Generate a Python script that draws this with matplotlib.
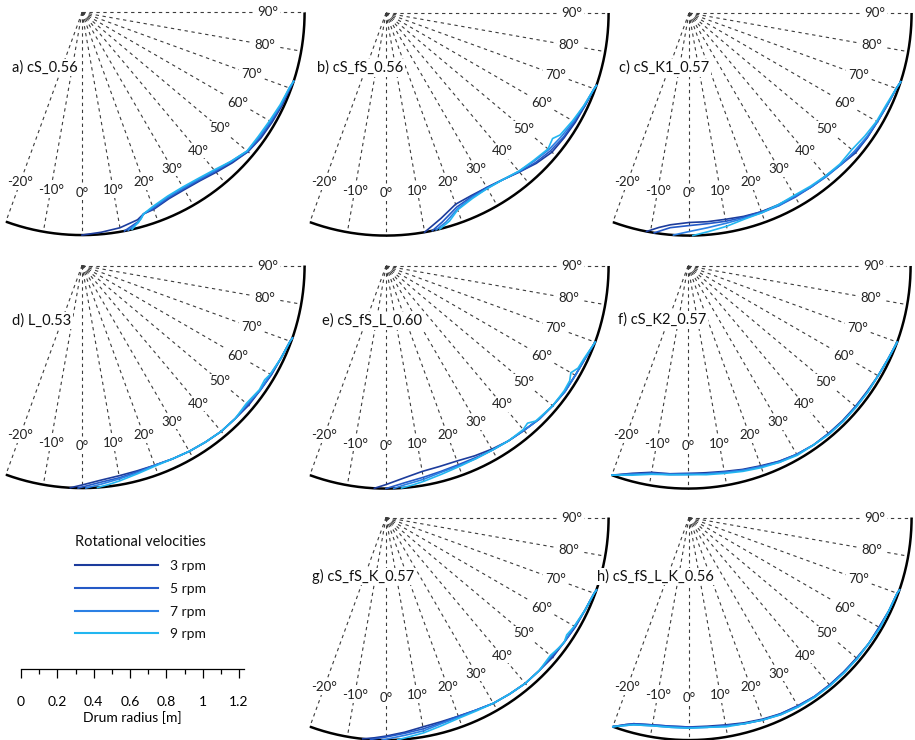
#!/usr/bin/env python3

import matplotlib

matplotlib.use("Agg")
import matplotlib.pyplot as plt
import numpy as np
from matplotlib.lines import Line2D
from matplotlib.ticker import FixedLocator, MultipleLocator


DRUM_RADIUS = 1.225  # m
RAY_ANGLES = list(range(-20, 100, 10))
SPEEDS = [3, 5, 7, 9]
SPEED_COLORS = ["#1c3c9c", "#2459c6", "#2b80e4", "#22b6f0"]

# Free-surface profiles: angle from the drum bottom (deg) and distance
# of the bed surface from the drum wall, measured along the radius (cm).
PANEL_A = {
    3: ([0, 5, 10, 15, 17, 20, 25, 30, 35, 40, 45, 50, 55, 60, 65, 70, 72],
        [0, 1.1, 2.2, 4.4, 6.6, 7.2, 9.4, 9.9, 9.4, 7.7, 5.5, 3.3, 2.2, 1.7, 1.1, 0.6, 0]),
    5: ([11, 15, 17, 20, 25, 30, 35, 40, 45, 50, 55, 60, 65, 70, 72],
        [0, 3.3, 6.6, 7.7, 9.9, 10.5, 9.9, 8.3, 6.1, 3.3, 2.8, 2.2, 1.7, 0.6, 0]),
    7: ([12, 15, 17, 20, 25, 30, 35, 40, 45, 50, 55, 60, 65, 70, 72],
        [0, 2.8, 6.6, 8.3, 10.5, 11.0, 10.5, 8.8, 6.6, 3.9, 3.3, 2.8, 1.7, 1.1, 0]),
    9: ([13, 16, 17, 20, 25, 30, 35, 40, 45, 50, 55, 60, 65, 70, 72],
        [0, 4.4, 6.6, 8.8, 11.0, 11.6, 11.0, 9.4, 6.6, 3.9, 3.9, 3.3, 2.2, 1.1, 0]),
}
PANEL_B = {
    3: ([10, 15, 20, 25, 30, 35, 40, 45, 50, 55, 60, 65, 70, 71],
        [0, 5.5, 10.5, 11.6, 11.6, 10.5, 8.3, 5.5, 3.3, 2.8, 2.2, 1.7, 0.6, 0]),
    5: ([12, 15, 20, 25, 30, 35, 40, 45, 50, 55, 60, 65, 70, 71],
        [0, 3.3, 8.8, 11.0, 11.6, 10.5, 8.3, 6.1, 4.4, 3.3, 2.8, 1.7, 0.6, 0]),
    7: ([13, 16, 20, 25, 30, 35, 40, 45, 50, 55, 60, 65, 70, 71],
        [0, 2.8, 7.7, 10.5, 11.0, 10.5, 8.8, 7.2, 5.5, 4.4, 3.3, 2.2, 0.6, 0]),
    9: ([14, 17, 20, 25, 30, 35, 40, 45, 50, 53, 55, 60, 65, 70, 71],
        [0, 2.8, 7.2, 9.9, 11.0, 10.5, 8.8, 7.7, 6.1, 7.7, 5.5, 3.9, 2.2, 0.6, 0]),
}
PANEL_C = {
    3: ([-11, -8, -5, 0, 5, 10, 15, 20, 25, 30, 35, 40, 45, 50, 55, 60, 65, 70, 72],
        [0, 3.3, 5.5, 7.2, 7.2, 7.2, 6.6, 6.1, 6.1, 6.1, 5.5, 5.5, 4.4, 2.8, 2.8, 2.8, 2.2, 1.1, 0]),
    5: ([-9, -5, 0, 5, 10, 15, 20, 25, 30, 35, 40, 45, 50, 55, 60, 65, 70, 72],
        [0, 3.9, 5.5, 6.1, 6.1, 6.1, 6.1, 5.5, 5.5, 5.5, 5.0, 4.4, 3.3, 2.8, 2.8, 2.2, 1.1, 0]),
    7: ([-4, 0, 5, 10, 15, 20, 25, 30, 35, 40, 45, 50, 55, 60, 65, 70, 72],
        [0, 2.2, 3.9, 5.0, 5.5, 5.5, 5.5, 6.1, 5.5, 5.0, 4.4, 3.9, 3.3, 2.8, 2.2, 1.1, 0]),
    9: ([1, 5, 10, 15, 20, 25, 30, 35, 40, 45, 50, 55, 60, 65, 70, 72],
        [0, 1.7, 3.3, 5.0, 5.5, 6.1, 6.6, 6.1, 5.5, 5.0, 5.5, 4.4, 3.3, 2.8, 1.1, 0]),
}
PANEL_D = {
    3: ([-3, 0, 5, 10, 15, 20, 25, 30, 35, 40, 45, 50, 55, 60, 65, 70, 71],
        [0, 1.7, 3.9, 5.0, 5.5, 5.5, 5.0, 4.4, 3.9, 3.3, 3.3, 2.8, 2.8, 2.2, 1.7, 0.6, 0]),
    5: ([-1, 5, 10, 15, 20, 25, 30, 35, 40, 45, 50, 55, 60, 65, 70, 71],
        [0, 2.8, 3.9, 5.0, 5.5, 5.0, 4.4, 3.9, 3.3, 3.3, 3.3, 2.8, 2.2, 1.7, 0.6, 0]),
    7: ([1, 5, 10, 15, 20, 25, 30, 35, 40, 45, 50, 55, 60, 65, 70, 71],
        [0, 1.7, 3.3, 4.4, 5.5, 5.0, 4.4, 3.9, 3.3, 3.3, 3.9, 2.8, 2.8, 1.7, 0.6, 0]),
    9: ([4, 7, 10, 15, 20, 25, 30, 35, 40, 45, 50, 55, 58, 60, 65, 70, 71],
        [0, 1.1, 2.2, 3.9, 5.0, 5.0, 4.4, 3.9, 3.3, 3.3, 4.4, 3.3, 3.9, 2.8, 1.7, 0.6, 0]),
}
PANEL_E = {
    3: ([-3, 0, 5, 10, 15, 20, 25, 30, 35, 40, 45, 50, 55, 60, 65, 70],
        [0, 2.2, 5.5, 7.7, 8.3, 8.3, 7.2, 6.1, 5.0, 4.4, 3.3, 2.8, 2.2, 2.2, 1.7, 0]),
    5: ([0, 5, 10, 15, 20, 25, 30, 35, 40, 45, 50, 55, 60, 65, 70],
        [0, 2.8, 4.4, 5.5, 6.1, 6.1, 5.5, 5.0, 4.4, 3.3, 2.8, 2.2, 2.2, 1.7, 0]),
    7: ([2, 5, 10, 15, 20, 25, 30, 35, 40, 45, 50, 55, 60, 65, 70],
        [0, 1.7, 3.3, 5.0, 5.5, 5.5, 5.5, 5.0, 4.4, 3.3, 2.8, 2.2, 2.2, 1.7, 0]),
    9: ([4, 7, 10, 15, 20, 25, 30, 35, 40, 42, 44, 50, 55, 58, 60, 62, 65, 70],
        [0, 1.1, 2.2, 3.9, 5.0, 5.5, 5.5, 5.0, 5.0, 6.1, 3.9, 2.8, 2.8, 3.3, 5.0, 2.8, 2.2, 0]),
}
PANEL_F = {
    3: ([-20, -15, -10, -5, 0, 5, 10, 15, 20, 25, 30, 35, 40, 45, 50, 55, 60, 65, 70],
        [0, 4.4, 7.2, 7.7, 8.3, 8.3, 7.7, 6.6, 5.5, 3.9, 2.8, 2.2, 2.2, 2.2, 2.2, 2.2, 1.7, 1.1, 0]),
    5: ([-20, -15, -10, -5, 0, 5, 10, 15, 20, 25, 30, 35, 40, 45, 50, 55, 60, 65, 70],
        [0, 3.9, 6.6, 7.7, 8.3, 7.7, 7.2, 6.1, 5.0, 3.9, 2.8, 2.2, 2.2, 1.7, 2.2, 1.7, 1.7, 1.1, 0]),
    7: ([-20, -15, -10, -5, 0, 5, 10, 15, 20, 25, 30, 35, 40, 45, 50, 55, 60, 65, 70],
        [0, 3.9, 6.6, 7.2, 7.7, 7.7, 7.2, 6.1, 5.0, 3.3, 2.8, 2.2, 1.7, 1.7, 1.7, 1.7, 1.7, 1.1, 0]),
    9: ([-20, -15, -10, -5, 0, 5, 10, 15, 20, 25, 30, 35, 40, 45, 50, 55, 60, 65, 70],
        [0, 3.3, 6.1, 7.2, 7.7, 7.2, 6.6, 5.5, 4.4, 3.3, 2.2, 2.2, 1.7, 1.7, 1.7, 1.7, 1.7, 1.1, 0]),
}
PANEL_G = {
    3: ([-6, -3, 0, 5, 10, 15, 20, 25, 30, 35, 40, 45, 50, 55, 60, 65, 70, 71],
        [0, 1.1, 2.2, 3.9, 5.5, 6.1, 6.1, 5.5, 4.4, 3.9, 3.3, 3.3, 2.8, 2.8, 2.2, 1.7, 0.6, 0]),
    5: ([-4, 0, 5, 10, 15, 20, 25, 30, 35, 40, 45, 50, 55, 60, 65, 70, 71],
        [0, 1.7, 3.3, 4.4, 5.5, 6.1, 5.5, 4.4, 3.9, 3.3, 3.3, 3.3, 2.8, 2.2, 1.7, 0.6, 0]),
    7: ([-1, 5, 10, 15, 20, 25, 30, 35, 40, 45, 50, 55, 60, 65, 70, 71],
        [0, 2.2, 3.3, 5.0, 5.5, 5.5, 4.4, 3.9, 3.3, 3.3, 3.9, 2.8, 2.8, 1.7, 0.6, 0]),
    9: ([3, 6, 10, 15, 20, 25, 30, 35, 40, 45, 50, 53, 55, 57, 60, 65, 70, 71],
        [0, 1.1, 2.2, 3.9, 5.0, 5.0, 4.4, 3.9, 3.3, 3.3, 4.4, 3.3, 2.8, 3.9, 2.8, 1.7, 0.6, 0]),
}
PANEL_H = {
    3: ([-20, -17, -15, -10, -5, 0, 5, 10, 15, 20, 25, 30, 35, 40, 45, 50, 55, 60, 65, 70, 71],
        [0, 3.3, 5.0, 6.6, 7.2, 7.2, 7.2, 6.6, 5.5, 4.4, 3.3, 2.8, 2.2, 2.2, 2.2, 2.2, 1.7, 1.7, 1.1, 0.6, 0]),
    5: ([-20, -17, -15, -10, -5, 0, 5, 10, 15, 20, 25, 30, 35, 40, 45, 50, 55, 60, 65, 70, 71],
        [0, 3.3, 5.0, 6.6, 7.2, 7.2, 6.6, 6.1, 5.0, 3.9, 3.3, 2.8, 2.2, 2.2, 2.2, 1.7, 1.7, 1.7, 1.1, 0.6, 0]),
    7: ([-20, -17, -15, -10, -5, 0, 5, 10, 15, 20, 25, 30, 35, 40, 45, 50, 55, 60, 65, 70, 71],
        [0, 2.8, 4.4, 6.1, 6.6, 6.6, 6.6, 6.1, 5.0, 3.9, 2.8, 2.2, 2.2, 1.7, 1.7, 1.7, 1.7, 1.1, 1.1, 0.6, 0]),
    9: ([-20, -17, -15, -10, -5, 0, 5, 10, 15, 20, 25, 30, 35, 40, 45, 50, 55, 60, 65, 70, 71],
        [0, 2.8, 4.4, 6.1, 6.6, 6.6, 6.6, 5.5, 5.0, 3.9, 2.8, 2.2, 1.7, 1.7, 1.7, 1.7, 1.7, 1.1, 1.1, 0.6, 0]),
}

PANEL_TITLES = ["a) cS_0.56", "b) cS_fS_0.56", "c) cS_K1_0.57", "d) L_0.53",
                "e) cS_fS_L_0.60", "f) cS_K2_0.57", "g) cS_fS_K_0.57", "h) cS_fS_L_K_0.56"]
PANELS = [PANEL_A, PANEL_B, PANEL_C, PANEL_D, PANEL_E, PANEL_F, PANEL_G, PANEL_H]

SCALE_TICKS = [0, 0.2, 0.4, 0.6, 0.8, 1.0, 1.2]
SCALE_LABELS = ["0", "0.2", "0.4", "0.6", "0.8", "1", "1.2"]

# page layout in pixels (origin top left)
FIG_W, FIG_H = 915, 740
PX_PER_M = 181.7
PANEL_CENTERS = [(82, 12.5), (386, 13), (689, 13),
                 (82, 265.5), (386, 266), (688, 266),
                 (386, 517.5), (689, 517.5)]
TITLE_OFFSETS = [(-70, 55), (-69, 55), (-70, 55), (-70, 55),
                 (-64, 55), (-70, 54), (-74, 59), (-92, 59)]


def fig_rect(left, top, width, height):
    return [left / FIG_W, 1 - (top + height) / FIG_H, width / FIG_W, height / FIG_H]


def bed_surface(angles, gaps_cm):
    theta = np.radians(angles)
    r = DRUM_RADIUS - np.asarray(gaps_cm) / 100.0
    return r * np.sin(theta), -r * np.cos(theta)


def draw_panel(fig, center, title, title_offset, profiles):
    cx, cy = center
    pad_l, pad_r, pad_t, pad_b = 100, 235, 15, 242
    ax = fig.add_axes(fig_rect(cx - pad_l, cy - pad_t, pad_l + pad_r, pad_t + pad_b))
    ax.set_xlim(-pad_l / PX_PER_M, pad_r / PX_PER_M)
    ax.set_ylim(-pad_b / PX_PER_M, pad_t / PX_PER_M)
    ax.axis("off")
    ax.patch.set_alpha(0)

    for angle in RAY_ANGLES:
        t = np.radians(angle)
        ax.plot([0, DRUM_RADIUS * np.sin(t)], [0, -DRUM_RADIUS * np.cos(t)],
                color="#3c3c3c", lw=0.8, linestyle=(0, (2.4, 2.6)), zorder=1)
        lr = DRUM_RADIUS * (0.835 if angle >= 80 else 0.81)
        ax.text(lr * np.sin(t), -lr * np.cos(t), f"{angle}°", ha="center", va="center",
                fontsize=9.5, color="#222222", zorder=3,
                bbox=dict(boxstyle="square,pad=0.12", fc="white", ec="none"))

    wall = np.radians(np.linspace(-20, 90, 240))
    ax.plot(DRUM_RADIUS * np.sin(wall), -DRUM_RADIUS * np.cos(wall),
            color="black", lw=1.8, solid_capstyle="butt", zorder=4)

    for speed, color in zip(SPEEDS, SPEED_COLORS):
        angles, gaps = profiles[speed]
        x, y = bed_surface(angles, gaps)
        ax.plot(x, y, color=color, lw=1.2, zorder=5)

    ax.text(title_offset[0] / PX_PER_M, -title_offset[1] / PX_PER_M, title,
            ha="left", va="center", fontsize=10.5, color="#111111", zorder=6,
            bbox=dict(boxstyle="square,pad=0.1", fc="white", ec="none"))


def draw_scale_bar(fig):
    width = DRUM_RADIUS * PX_PER_M
    ax = fig.add_axes(fig_rect(21, 660, width, 9))
    ax.set_xlim(0, DRUM_RADIUS)
    ax.set_ylim(0, 1)
    ax.patch.set_alpha(0)
    for side in ("top", "left", "right"):
        ax.spines[side].set_visible(False)
    ax.spines["bottom"].set_linewidth(0.9)
    ax.set_yticks([])
    ax.xaxis.set_major_locator(FixedLocator(SCALE_TICKS))
    ax.set_xticklabels(SCALE_LABELS)
    ax.xaxis.set_minor_locator(MultipleLocator(0.1))
    ax.tick_params(axis="x", which="major", direction="out", length=6.8, width=0.9,
                   pad=13, labelsize=10)
    ax.tick_params(axis="x", which="minor", direction="out", length=3.4, width=0.9)
    ax.set_xlabel("Drum radius [m]", fontsize=10, labelpad=2)


def main():
    plt.rcParams.update({
        "font.family": ["Lato", "DejaVu Sans"],
        "lines.scale_dashes": False,
        "text.color": "#111111",
    })
    fig = plt.figure(figsize=(FIG_W / 100, FIG_H / 100), dpi=100)

    for center, title, offset, profiles in zip(PANEL_CENTERS, PANEL_TITLES,
                                               TITLE_OFFSETS, PANELS):
        draw_panel(fig, center, title, offset, profiles)

    handles = [Line2D([], [], color=c, lw=1.5) for c in SPEED_COLORS]
    labels = [f"{s} rpm" for s in SPEEDS]
    fig.legend(handles, labels, title="Rotational velocities", alignment="left",
               loc="upper left", bbox_to_anchor=(75 / FIG_W, 1 - 535 / FIG_H),
               frameon=False, fontsize=10, title_fontsize=10.5, borderpad=0,
               borderaxespad=0, handlelength=6.0, handletextpad=0.85,
               labelspacing=0.78)

    draw_scale_bar(fig)
    fig.savefig("out.png", dpi=100)


if __name__ == "__main__":
    main()
